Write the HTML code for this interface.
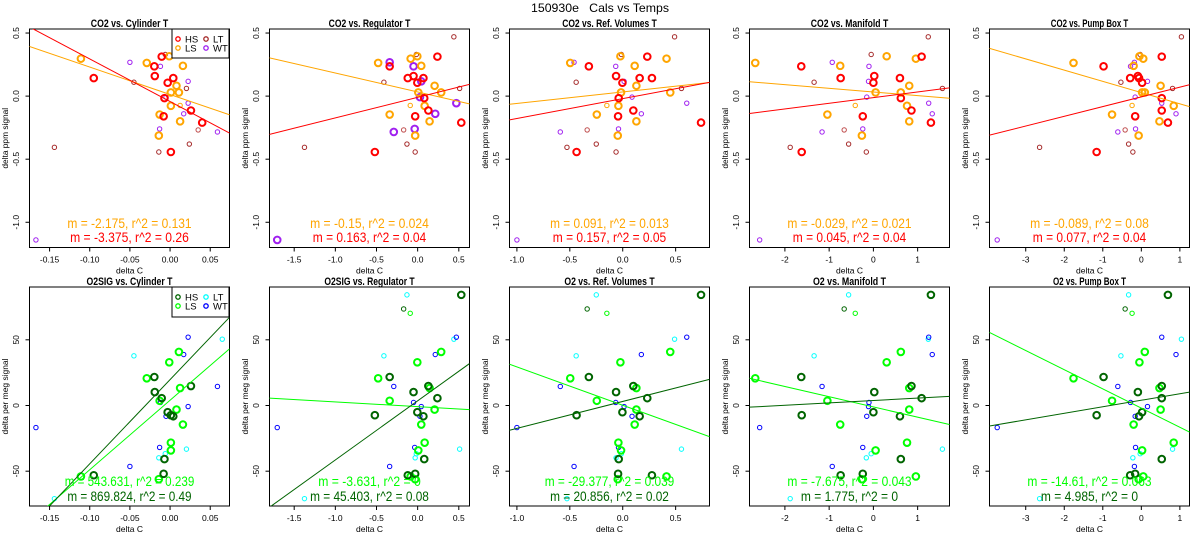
<!DOCTYPE html>
<html><head><meta charset="utf-8"><style>
html,body{margin:0;padding:0;background:#fff;}
svg{display:block;font-family:"Liberation Sans",sans-serif;}
</style></head><body>
<svg id="chart" width="1200" height="550" viewBox="0 0 1200 550" xmlns="http://www.w3.org/2000/svg">
<text x="600" y="12" text-anchor="middle" font-size="12" textLength="138" lengthAdjust="spacingAndGlyphs">150930e&#160;&#160;&#160;Cals vs Temps</text>
</svg>
<script>
// ---- data ----
const colTitlesTop = ['CO2 vs. Cylinder T','CO2 vs. Regulator T','CO2 vs. Ref. Volumes T','CO2 vs. Manifold T','CO2 vs. Pump Box T'];
const colTitlesBot = ['O2SIG vs. Cylinder T','O2SIG vs. Regulator T','O2 vs. Ref. Volumes T','O2 vs. Manifold T','O2 vs. Pump Box T'];
const xLims = [[-0.175,0.074],[-1.8,0.63],[-1.07,0.82],[-2.8,1.72],[-3.94,1.25]];
const xTicks1 = [-0.15,-0.10,-0.05,0.00,0.05];
const xTicks2 = [-1.5,-1.0,-0.5,0.0,0.5];
const xTicks3 = [-1.0,-0.5,0.0,0.5];
const xTicks4 = [-2,-1,0,1];
const xTicks5 = [-3,-2,-1,0,1];
const yLimTop = [-1.2,0.532];
const yLimBot = [-76.5,90.2];
const yTicksTop = [-1.0,-0.5,0.0,0.5];
const yTicksBot = [-50,0,50];

const hsTopY = [0.313,0.236,0.159,0.143,0.143,0.106,-0.016,-0.114,-0.16,-0.21,-0.443];
const hsBotY = [5.6,21.7,10.2,-53.1,-8.2,-5.1,-40.8,14.8,-52,84.2,-7.4];
const lsTopY = [0.263,0.297,0.316,0.24,0.082,0.029,0.029,-0.077,-0.146,-0.2,-0.313];
const lsBotY = [20.7,-54,32.9,-14.5,-3.1,-34.2,40.8,-28.3,3.6,13.3,-56.1];
const ltTopY = [-0.406,0.11,0.33,0.061,-0.38,-0.443,0.47];
const ltBotY = [-70.9,37.8,-36.7,-33.2,84.2,-39.8,50.5];
const wtTopY = [-1.14,0.268,0.236,0.117,-0.008,-0.056,-0.14,-0.284,-0.26];
const wtBotY = [-16.8,-46.4,2.3,-0.8,-8.2,52,38.8,14.5,-31.9];
const hsThinTopY = [-0.268];
const hsThinBotY = [73.5];
const lsThinTopY = [-0.074];
const lsThinBotY = [70.2];

const hsX1 = [-0.0104,-0.0196,-0.019,-0.095,0.004,-0.003,-0.007,0.026,-0.008,0.04,0.001];
const hsX2 = [0.24,-0.34,-0.05,-0.12,0.07,-0.004,0.08,0.13,-0.03,0.53,-0.52];
const hsX3 = [0.232,-0.32,-0.063,0.276,0.16,-0.003,-0.038,0.1,-0.044,0.74,-0.436];
const hsX4 = [1.09,-1.63,0.02,-0.74,0.6,0.0,0.62,0.86,-0.24,1.3,-1.62];
const hsX5 = [0.53,-0.98,-0.09,-0.29,-0.06,0.02,0.53,0.53,-0.16,0.69,-1.16];
const lsX1 = [-0.029,-0.111,-0.001,0.016,0.008,0.001,0.011,0.001,-0.013,0.0125,-0.014];
const lsX2 = [-0.48,-0.085,-0.004,0.044,0.206,0.008,0.286,0.085,-0.34,0.145,-0.03];
const lsX3 = [-0.496,0.414,-0.022,0.113,0.129,-0.016,0.449,-0.041,-0.245,0.129,-0.047];
const lsX4 = [-2.67,0.96,0.3,-0.75,0.81,0.05,0.62,0.76,-1.04,0.81,-0.26];
const lsX5 = [-1.76,0.05,-0.05,-0.2,0.5,0.02,0.09,0.84,-0.76,0.47,-0.07];
const ltX1 = [-0.144,-0.045,-0.006,0.0204,0.024,-0.014,0.065];
const ltX2 = [-1.375,-0.41,-0.016,0.51,-0.13,-0.03,0.44];
const ltX3 = [-0.527,-0.44,-0.013,0.555,-0.25,-0.063,0.49];
const ltX4 = [-1.88,-1.34,-0.05,1.56,-0.56,-0.16,1.24];
const ltX5 = [-2.64,-0.53,-0.03,0.81,-0.33,-0.22,1.04];
const wtX1 = [-0.167,-0.05,-0.012,0.0225,-0.005,0.0225,0.017,0.059,-0.013];
const wtX2 = [-1.706,-0.34,-0.05,0.044,0.028,0.47,0.214,-0.29,-0.036];
const wtX3 = [-1.0,-0.46,-0.066,0.013,0.088,0.605,0.176,-0.59,-0.04];
const wtX4 = [-2.57,-0.93,-0.1,-0.11,-0.15,1.25,1.33,-1.16,-0.24];
const wtX5 = [-3.74,-0.18,-0.28,0.16,-0.16,0.53,0.9,-0.61,-0.15];
const hsThinX = [0.035,-0.17,-0.336,-0.66,-0.42];
const lsThinX = [0.0125,-0.09,-0.15,-0.41,-0.24];

const fitTopLSm = [-2.175,-0.15,0.091,-0.029,-0.089];
const fitTopLSb = [0.0127,0.033,0.033,0.033,0.028];
const fitTopHSm = [-3.375,0.163,0.157,0.045,0.077];
const fitTopHSb = [-0.043,-0.0096,-0.020,-0.012,-0.006];
const fitBotLSm = [529,-3.58,-29.15,-7.79,-14.6];
const fitBotLSb = [4.0,-0.84,0.2,-1.1,-1.95];
const fitBotHSm = [640.9,45.0,20.5,1.81,4.97];
const fitBotHSb = [19.7,3.55,3.09,3.79,4.0];
const annTopLS = ['m = -2.175, r^2 = 0.131','m = -0.15, r^2 = 0.024','m = 0.091, r^2 = 0.013','m = -0.029, r^2 = 0.021','m = -0.089, r^2 = 0.08'];
const annTopHS = ['m = -3.375, r^2 = 0.26','m = 0.163, r^2 = 0.04','m = 0.157, r^2 = 0.05','m = 0.045, r^2 = 0.04','m = 0.077, r^2 = 0.04'];
const annBotLS = ['m = 543.631, r^2 = 0.239','m = -3.631, r^2 = 0','m = -29.377, r^2 = 0.039','m = -7.675, r^2 = 0.043','m = -14.61, r^2 = 0.063'];
const annBotHS = ['m = 869.824, r^2 = 0.49','m = 45.403, r^2 = 0.08','m = 20.856, r^2 = 0.02','m = 1.775, r^2 = 0','m = 4.985, r^2 = 0'];

const NS = 'http://www.w3.org/2000/svg';
const svg = document.getElementById('chart');
const hsXs = [hsX1,hsX2,hsX3,hsX4,hsX5];
const lsXs = [lsX1,lsX2,lsX3,lsX4,lsX5];
const ltXs = [ltX1,ltX2,ltX3,ltX4,ltX5];
const wtXs = [wtX1,wtX2,wtX3,wtX4,wtX5];
const xTickSets = [xTicks1,xTicks2,xTicks3,xTicks4,xTicks5];
const tickFmt = [v=>v.toFixed(2), v=>v.toFixed(1), v=>v.toFixed(1), v=>String(v), v=>String(v)];

function mk(tag, attrs, parent){
  const e = document.createElementNS(NS, tag);
  for (const k in attrs) e.setAttribute(k, attrs[k]);
  (parent||svg).appendChild(e);
  return e;
}

function drawPanel(col,row){
  const ox = col*240;
  const x0 = ox+29.5, x1 = ox+229.5;
  const y0 = row===0 ? 29 : 287, y1 = row===0 ? 247.5 : 506;
  const xl = xLims[col], yl = row===0 ? yLimTop : yLimBot;
  const sx = v => x0 + (v-xl[0])/(xl[1]-xl[0])*(x1-x0);
  const sy = v => y1 - (v-yl[0])/(yl[1]-yl[0])*(y1-y0);
  const g = mk('g', {});
  
  
  const cid = 'clip'+row+'_'+col;
  const cp = mk('clipPath', {id:cid}, g);
  mk('rect', {x:x0,y:y0,width:x1-x0,height:y1-y0}, cp);

  const ttl = row===0 ? colTitlesTop[col] : colTitlesBot[col];
  const t = mk('text', {x:ox+129.5, y: row===0?27:285, 'text-anchor':'middle','font-size':11,'font-weight':'bold', textLength: ttl.length*4.3, lengthAdjust:'spacingAndGlyphs'}, g);
  t.textContent = ttl;
  
  

  const fr = mk('rect', {x:x0,y:y0,width:x1-x0,height:y1-y0,fill:'none',stroke:'#000','stroke-width':1}, g);
  
  

  const yt = row===0 ? yTicksTop : yTicksBot;
  yt.forEach(v=>{
    const y = sy(v);
    mk('line', {x1:x0-4,x2:x0,y1:y,y2:y,stroke:'#000'}, g);
    const lab = row===0 ? v.toFixed(1) : String(v);
    const tx = mk('text', {x:0,y:0,'font-size':8.5,'text-anchor':'middle',transform:`translate(${ox+19},${y}) rotate(-90)`}, g);
    tx.textContent = lab;
    
    
  });
  const ylab = row===0 ? 'delta ppm signal' : 'delta per meg signal';
  const yT = mk('text', {x:0,y:0,'font-size':8.5,'text-anchor':'middle',textLength: ylab.length*3.8, lengthAdjust:'spacingAndGlyphs', transform:`translate(${ox+8},${(y0+y1)/2}) rotate(-90)`}, g);
  yT.textContent = ylab;
  
  

  xTickSets[col].forEach(v=>{
    const x = sx(v);
    mk('line', {x1:x,x2:x,y1:y1,y2:y1+4,stroke:'#000'}, g);
    const tx = mk('text', {x:x,y:y1+15,'font-size':8.5,'text-anchor':'middle'}, g);
    tx.textContent = tickFmt[col](v);
    
    
  });
  const xT = mk('text', {x:ox+129.5,y:y1+26,'font-size':8.5,'text-anchor':'middle'}, g);
  xT.textContent = 'delta C';
  
  

  const cg = mk('g', {'clip-path':`url(#${cid})`}, g);
  const cHS = row===0 ? '#ff0000' : '#006400';
  const cLS = row===0 ? '#ffa500' : '#00ff00';
  const cLT = row===0 ? '#a52a2a' : '#00ffff';
  const cWT = row===0 ? '#a020f0' : '#0000ff';
  function pts(xs, ys, color, thick, name){
    xs.forEach((xv,i)=>{
      const c = mk('circle', {cx:sx(xv), cy:sy(ys[i]), r: thick?3.3:2.2, fill:'none', stroke:color, 'stroke-width': thick?2:1}, cg);
      
      
    });
  }
  pts(ltXs[col], row===0?ltTopY:ltBotY, cLT, false, 'point-lt');
  pts(wtXs[col], row===0?wtTopY:wtBotY, cWT, row===0 && col===1, 'point-wt');
  pts([hsThinX[col]], row===0?hsThinTopY:hsThinBotY, row===0?'#c05050':cHS, false, 'point-hs-thin');
  pts([lsThinX[col]], row===0?lsThinTopY:lsThinBotY, cLS, false, 'point-ls-thin');
  pts(lsXs[col], row===0?lsTopY:lsBotY, cLS, true, 'point-ls');
  pts(hsXs[col], row===0?hsTopY:hsBotY, cHS, true, 'point-hs');

  function fit(m,b,color,name){
    const l = mk('line', {x1:sx(xl[0]), y1:sy(m*xl[0]+b), x2:sx(xl[1]), y2:sy(m*xl[1]+b), stroke:color, 'stroke-width':1}, cg);
    
    
  }
  if (row===0){
    fit(fitTopLSm[col], fitTopLSb[col], cLS, 'fit-line-ls');
    fit(fitTopHSm[col], fitTopHSb[col], cHS, 'fit-line-hs');
  } else {
    fit(fitBotLSm[col], fitBotLSb[col], cLS, 'fit-line-ls');
    fit(fitBotHSm[col], fitBotHSb[col], cHS, 'fit-line-hs');
  }

  const a1 = row===0 ? annTopLS[col] : annBotLS[col];
  const a2 = row===0 ? annTopHS[col] : annBotHS[col];
  const t1 = mk('text', {x:ox+129.5, y: row===0?228:486, 'text-anchor':'middle','font-size':14, fill:cLS, textLength:a1.length*5.4, lengthAdjust:'spacingAndGlyphs'}, g);
  t1.textContent = a1;
  
  
  const t2 = mk('text', {x:ox+129.5, y: row===0?242:501, 'text-anchor':'middle','font-size':14, fill:cHS, textLength:a2.length*5.4, lengthAdjust:'spacingAndGlyphs'}, g);
  t2.textContent = a2;
  
  

  if (col===0){
    const lg = mk('g', {}, g);
    
    
    mk('rect', {x:ox+172, y:y0, width:57, height: row===0?29:30, fill:'#fff', stroke:'#000'}, lg);
    const items = [['HS',cHS,178,10],['LS',cLS,178,19],['LT',cLT,206,10],['WT',cWT,206,19]];
    items.forEach(it=>{
      mk('circle', {cx:ox+it[2], cy:y0+it[3], r:2.2, fill:'none', stroke:it[1], 'stroke-width':1.3}, lg);
      const lt = mk('text', {x:ox+it[2]+7, y:y0+it[3]+3.5, 'font-size':9.5}, lg);
      lt.textContent = it[0];
      
      
    });
  }
}
for (let r=0;r<2;r++) for (let c=0;c<5;c++) drawPanel(c,r);
</script>
</body></html>
